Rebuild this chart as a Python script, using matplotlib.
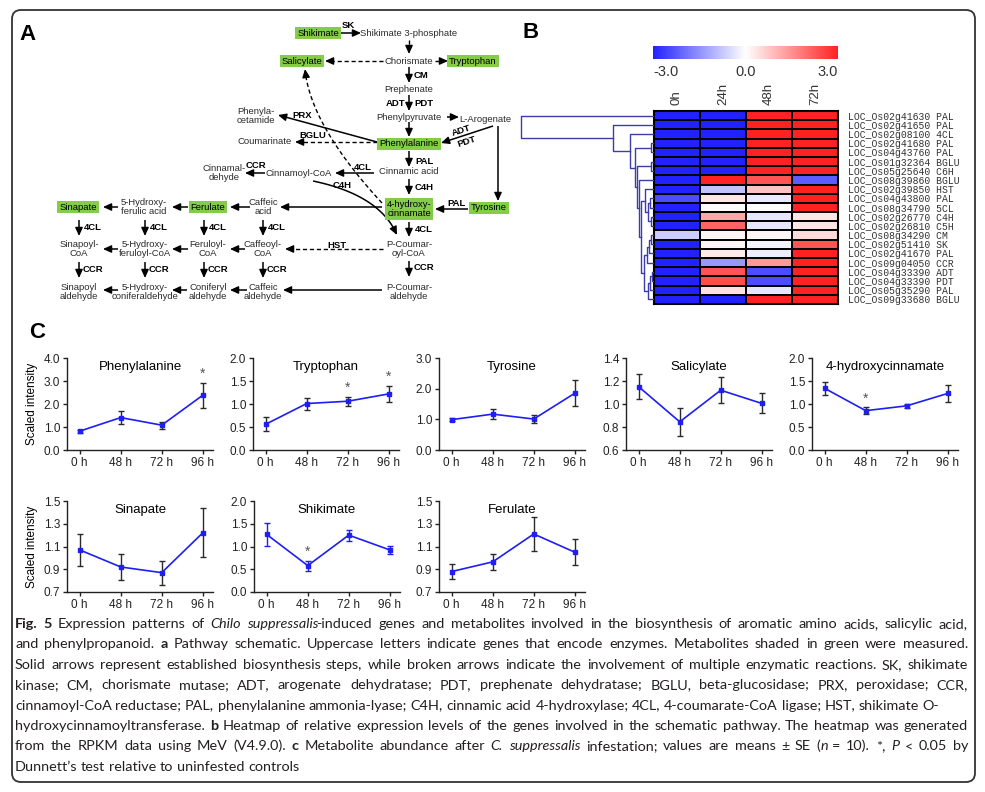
import numpy as np
import matplotlib
matplotlib.use("Agg")
import matplotlib.pyplot as plt
from matplotlib import font_manager
from matplotlib.colors import LinearSegmentedColormap
from matplotlib.patches import FancyBboxPatch

plt.rcParams["font.family"] = ["Liberation Sans", "DejaVu Sans"]

# ---------------------------------------------------------------- data (B)
hm_columns = ["0h", "24h", "48h", "72h"]
hm_genes = [
    "LOC_Os02g41630 PAL", "LOC_Os02g41650 PAL", "LOC_Os02g08100 4CL",
    "LOC_Os02g41680 PAL", "LOC_Os04g43760 PAL", "LOC_Os01g32364 BGLU",
    "LOC_Os05g25640 C6H", "LOC_Os08g39860 BGLU", "LOC_Os02g39850 HST",
    "LOC_Os04g43800 PAL", "LOC_Os08g34790 5CL", "LOC_Os02g26770 C4H",
    "LOC_Os02g26810 C5H", "LOC_Os08g34290 CM", "LOC_Os02g51410 SK",
    "LOC_Os02g41670 PAL", "LOC_Os09g04050 CCR", "LOC_Os04g33390 ADT",
    "LOC_Os04g33390 PDT", "LOC_Os05g35290 PAL", "LOC_Os09g33680 BGLU",
]
hm_values = [
    [-3.0, -3.0, 3.0, 3.0],
    [-3.0, -3.0, 3.0, 3.0],
    [-3.0, -3.0, 3.0, 3.0],
    [-3.0, -3.0, 3.0, 3.0],
    [-3.0, -3.0, 3.0, 3.0],
    [-3.0, -3.0, 3.0, 3.0],
    [-3.0, -3.0, 3.0, 3.0],
    [-3.0, 3.0, 2.3, -2.2],
    [-3.0, -0.8, 0.8, 3.0],
    [-2.4, 0.35, -0.3, 3.0],
    [-3.0, 0.05, 0.0, 3.0],
    [-3.0, 1.2, -0.35, 0.35],
    [-3.0, 2.1, -0.35, 0.35],
    [-0.7, 0.1, 0.1, 0.5],
    [-3.0, 0.15, -0.15, 2.3],
    [-3.0, 0.3, -0.25, 3.0],
    [-3.0, -1.4, 1.4, 3.0],
    [-3.0, 2.3, -2.4, 3.0],
    [-3.0, 2.4, -2.4, 3.0],
    [-3.0, 0.4, -0.35, 3.0],
    [-3.0, -3.0, 3.0, 3.0],
]
# dendrogram merges: (child a, child b, height); new nodes numbered from 21
dendro_merges = [
    (3, 4, 3), (5, 6, 3), (9, 10, 4), (11, 12, 3), (23, 24, 6), (8, 25, 9),
    (13, 14, 3), (27, 15, 5), (28, 16, 7), (17, 18, 2), (30, 19, 4), (31, 20, 6),
    (29, 32, 10), (26, 33, 13), (7, 34, 15), (22, 35, 17), (21, 36, 19),
    (2, 37, 24), (1, 38, 41), (0, 39, 133),
]

# ---------------------------------------------------------------- data (C)
times = ["0 h", "48 h", "72 h", "96 h"]
metabolites = ["Phenylalanine", "Tryptophan", "Tyrosine", "Salicylate",
               "4-hydroxycinnamate", "Sinapate", "Shikimate", "Ferulate"]
phe_mean, phe_se = [0.82, 1.41, 1.08, 2.38], [0.06, 0.29, 0.15, 0.55]
trp_mean, trp_se = [0.56, 1.01, 1.06, 1.22], [0.15, 0.13, 0.10, 0.18]
tyr_mean, tyr_se = [0.99, 1.17, 1.01, 1.85], [0.05, 0.17, 0.12, 0.43]
sal_mean, sal_se = [1.15, 0.845, 1.12, 1.005], [0.11, 0.12, 0.113, 0.087]
hcn_mean, hcn_se = [1.34, 0.855, 0.96, 1.23], [0.14, 0.07, 0.05, 0.18]
sin_mean, sin_se = [1.07, 0.92, 0.87, 1.22], [0.14, 0.117, 0.105, 0.215]
shi_mean, shi_se = [1.265, 0.58, 1.25, 0.925], [0.26, 0.11, 0.12, 0.085]
fer_mean, fer_se = [0.88, 0.965, 1.21, 1.05], [0.07, 0.072, 0.15, 0.115]
significant = {"Phenylalanine": [3], "Tryptophan": [2, 3],
               "4-hydroxycinnamate": [1], "Shikimate": [1]}
y_ticks = {
    "Phenylalanine": [0, 1, 2, 3, 4], "Tryptophan": [0, 0.5, 1, 1.5, 2],
    "Tyrosine": [0, 1, 2, 3], "Salicylate": [0.6, 0.8, 1.0, 1.2, 1.4],
    "4-hydroxycinnamate": [0, 0.5, 1, 1.5, 2], "Sinapate": [0.7, 0.9, 1.1, 1.3, 1.5],
    "Shikimate": [0, 0.5, 1, 1.5, 2], "Ferulate": [0.7, 0.9, 1.1, 1.3, 1.5],
}

# ---------------------------------------------------------------- pathway (A)
# node label, centre in figure pixels, measured (green) or not
pathway_nodes = [
    ("Shikimate", 318, 33, True), ("Shikimate 3-phosphate", 409, 33, False),
    ("Chorismate", 409, 61, False), ("Salicylate", 302, 61, True),
    ("Tryptophan", 473, 61, True), ("Prephenate", 409, 89, False),
    ("Phenylpyruvate", 409, 117, False), ("L-Arogenate", 485, 119, False),
    ("Phenylalanine", 409, 144, True), ("Phenyla-\ncetamide", 256, 116, False),
    ("Coumarinate", 265, 142, False), ("Cinnamic acid", 409, 172, False),
    ("Cinnamoyl-CoA", 299, 173, False), ("Cinnamal-\ndehyde", 224, 173, False),
    ("4-hydroxy-\ncinnamate", 409, 209, True), ("Tyrosine", 489, 208, True),
    ("Caffeic\nacid", 263, 207, False), ("Ferulate", 208, 207, True),
    ("5-Hydroxy-\nferulic acid", 144, 207, False), ("Sinapate", 78, 207, True),
    ("Sinapoyl-\nCoA", 79, 249, False), ("5-Hydroxy-\nferuloyl-CoA", 145, 249, False),
    ("Feruloyl-\nCoA", 208, 249, False), ("Caffeoyl-\nCoA", 263, 249, False),
    ("P-Coumar-\noyl-CoA", 409, 249, False),
    ("Sinapoyl\naldehyde", 79, 292, False), ("5-Hydroxy-\nconiferaldehyde", 145, 292, False),
    ("Coniferyl\naldehyde", 208, 292, False), ("Caffeic\naldehyde", 263, 292, False),
    ("P-Coumar-\naldehyde", 409, 292, False),
]
# x0, y0, x1, y1, dashed, curve control point
pathway_arrows = [
    (340, 33, 361, 33, False, None), (409, 40, 409, 54, True, None),
    (383, 61, 325, 61, True, None), (435, 61, 448, 61, True, None),
    (409, 67, 409, 83, False, None), (409, 95, 409, 111, False, None),
    (447, 117, 459, 117, False, None), (409, 122, 409, 137, False, None),
    (493, 126, 441, 143, False, None), (498, 126, 498, 201, False, None),
    (377, 142, 278, 115, False, None), (377, 142, 295, 142, True, None),
    (409, 151, 409, 167, False, None), (374, 173, 335, 173, False, None),
    (265, 173, 245, 173, False, None), (409, 179, 409, 195, False, None),
    (468, 209, 435, 209, False, None), (382, 207, 280, 207, False, None),
    (313, 181, 397, 235, False, (380, 195)), (382, 203, 305, 69, True, (310, 125)),
    (250, 207, 230, 207, False, None), (188, 207, 172, 207, False, None),
    (118, 207, 103, 207, False, None),
    (79, 220, 79, 236, False, None), (145, 220, 145, 236, False, None),
    (204, 220, 204, 236, False, None), (263, 220, 263, 236, False, None),
    (409, 222, 409, 237, False, None),
    (118, 249, 103, 249, False, None), (188, 249, 172, 249, False, None),
    (245, 249, 230, 249, False, None), (383, 249, 285, 249, True, None),
    (79, 262, 79, 278, False, None), (145, 262, 145, 278, False, None),
    (204, 262, 204, 278, False, None), (263, 262, 263, 278, False, None),
    (409, 261, 409, 277, False, None),
    (382, 290, 283, 290, False, None), (247, 290, 230, 290, False, None),
    (187, 290, 172, 290, False, None), (118, 290, 103, 290, False, None),
]
# enzyme label, centre, rotation
pathway_enzymes = [
    ("SK", 348, 26, 0), ("CM", 421, 75, 0), ("ADT", 396, 103, 0), ("PDT", 424, 103, 0),
    ("PRX", 302, 115, 0), ("BGLU", 313, 135, 0), ("ADT", 461, 131, 18), ("PDT", 467, 142, 18),
    ("PAL", 424, 161, 0), ("4CL", 363, 168, 0), ("CCR", 256, 166, 0), ("C4H", 424, 188, 0),
    ("C4H", 342, 186, 0), ("PAL", 457, 203, 0),
    ("4CL", 93, 228, 0), ("4CL", 159, 228, 0), ("4CL", 218, 228, 0), ("4CL", 277, 228, 0),
    ("4CL", 424, 230, 0), ("HST", 337, 245, 0),
    ("CCR", 93, 270, 0), ("CCR", 159, 270, 0), ("CCR", 218, 270, 0), ("CCR", 277, 270, 0),
    ("CCR", 424, 268, 0),
]

caption_lines = [
    ([("b", "Fig. 5"), ("n", " Expression patterns of "), ("i", "Chilo suppressalis"),
      ("n", "-induced genes and metabolites involved in the biosynthesis of aromatic amino acids, salicylic acid,")], True),
    ([("n", "and phenylpropanoid. "), ("b", "a"),
      ("n", " Pathway schematic. Uppercase letters indicate genes that encode enzymes. Metabolites shaded in green were measured.")], True),
    ([("n", "Solid arrows represent established biosynthesis steps, while broken arrows indicate the involvement of multiple enzymatic reactions. SK, shikimate")], True),
    ([("n", "kinase; CM, chorismate mutase; ADT, arogenate dehydratase; PDT, prephenate dehydratase; BGLU, beta-glucosidase; PRX, peroxidase; CCR,")], True),
    ([("n", "cinnamoyl-CoA  reductase; PAL, phenylalanine ammonia-lyase; C4H, cinnamic acid 4-hydroxylase; 4CL, 4-coumarate-CoA ligase; HST, shikimate O-")], False),
    ([("n", "hydroxycinnamoyltransferase. "), ("b", "b"),
      ("n", " Heatmap of relative expression levels of the genes involved in the schematic pathway. The heatmap was generated")], True),
    ([("n", "from the RPKM data using MeV (V4.9.0). "), ("b", "c"), ("n", " Metabolite abundance after "),
      ("i", "C. suppressalis"), ("n", " infestation; values are means \u00b1 SE ("), ("i", "n"),
      ("n", " = 10). *, "), ("i", "P"), ("n", " < 0.05 by")], True),
    ([("n", "Dunnett\u2019s test relative to uninfested controls")], False),
]

# ---------------------------------------------------------------- figure
W, H = 985, 792
fig = plt.figure(figsize=(W / 100, H / 100), dpi=100)


def px_rect(left, top, right, bottom):
    return [left / W, 1 - bottom / H, (right - left) / W, (bottom - top) / H]


pax = fig.add_axes([0, 0, 1, 1])
pax.set_xlim(0, W)
pax.set_ylim(H, 0)
pax.axis("off")

pax.add_patch(FancyBboxPatch((12, 10), 963, 772, boxstyle="round,pad=0,rounding_size=9",
                             fc="none", ec="#333333", lw=1.3))

for lab, x, y in [("A", 28, 35), ("B", 531, 33), ("C", 37, 332)]:
    pax.text(x, y, lab, fontsize=16, fontweight="bold", ha="center", va="center")

# -- panel A -----------------------------------------------------------------
GREEN = "#84cc4a"
for label, x, y, measured in pathway_nodes:
    kw = dict(fontsize=6.8, ha="center", va="center", linespacing=1.1, color="#2b2b2b")
    if measured:
        kw["color"] = "black"
        kw["bbox"] = dict(boxstyle="square,pad=0.2", fc=GREEN, ec="none")
    pax.text(x, y, label, **kw)


def draw_arrow(x0, y0, x1, y1, dashed, ctrl):
    t = np.linspace(0, 1, 60)
    if ctrl is None:
        pts = np.column_stack([x0 + (x1 - x0) * t, y0 + (y1 - y0) * t])
    else:
        cx, cy = ctrl
        pts = np.column_stack([(1 - t) ** 2 * x0 + 2 * (1 - t) * t * cx + t ** 2 * x1,
                               (1 - t) ** 2 * y0 + 2 * (1 - t) * t * cy + t ** 2 * y1])
    seg = np.hypot(*np.diff(pts, axis=0).T)
    cum = np.concatenate([[0], np.cumsum(seg)])
    cut = max(cum[-1] - 6.5, 0)
    keep = cum <= cut
    body = pts[keep]
    if dashed:
        pax.plot(body[:, 0], body[:, 1], color="black", lw=1.0, dashes=(3, 2))
    else:
        pax.plot(body[:, 0], body[:, 1], color="black", lw=1.1, solid_capstyle="butt")
    pax.annotate("", xy=(x1, y1), xytext=tuple(body[-1]),
                 arrowprops=dict(arrowstyle="-|>,head_length=0.55,head_width=0.25",
                                 color="black", lw=1.0, shrinkA=0, shrinkB=0,
                                 mutation_scale=9))


for a in pathway_arrows:
    draw_arrow(*a)

for label, x, y, rot in pathway_enzymes:
    pax.text(x, y, label, fontsize=6.8, fontweight="bold", ha="center", va="center",
             rotation=rot, rotation_mode="anchor")

# -- panel B -----------------------------------------------------------------
cmap = LinearSegmentedColormap.from_list("mev", ["#2222ff", "#ffffff", "#ff2222"])
hax = fig.add_axes(px_rect(654, 111, 838, 304))
mesh = hax.pcolormesh(np.array(hm_values), cmap=cmap, vmin=-3, vmax=3,
                      edgecolors="black", linewidth=1.3)
hax.set_xlim(0, len(hm_columns))
hax.set_ylim(len(hm_genes), 0)
hax.xaxis.tick_top()
hax.set_xticks(np.arange(len(hm_columns)) + 0.5)
hax.set_xticklabels(hm_columns, rotation=90, fontsize=9.5, color="#333333")
hax.yaxis.tick_right()
hax.set_yticks(np.arange(len(hm_genes)) + 0.5)
hax.set_yticklabels(hm_genes, fontsize=7, family="Liberation Mono", color="#333333")
hax.tick_params(length=0)
hax.tick_params(axis="x", pad=4)
hax.tick_params(axis="y", pad=7)
for s in hax.spines.values():
    s.set_linewidth(1.5)

dax = fig.add_axes(px_rect(519, 111, 654, 304))
dax.set_xlim(135, 0)
dax.set_ylim(len(hm_genes), 0)
dax.axis("off")
pos = {i: (0.0, i + 0.5) for i in range(len(hm_genes))}
for k, (a, b, h) in enumerate(dendro_merges):
    xa, ya = pos[a]
    xb, yb = pos[b]
    dax.plot([xa, h, h, xb], [ya, ya, yb, yb], color="#3c3caa", lw=1.0)
    pos[len(hm_genes) + k] = (h, (ya + yb) / 2)

cax = fig.add_axes(px_rect(653, 46, 838, 59))
cb = fig.colorbar(mesh, cax=cax, orientation="horizontal", ticks=[-3, 0, 3])
cb.outline.set_visible(False)
cb.set_ticklabels(["-3.0", "0.0", "3.0"])
cax.tick_params(length=0, labelsize=10.5, pad=4, labelcolor="#333333")
tl = cax.get_xticklabels()
tl[0].set_ha("left")
tl[-1].set_ha("right")

# -- panel C -----------------------------------------------------------------
series = {
    "Phenylalanine": (phe_mean, phe_se), "Tryptophan": (trp_mean, trp_se),
    "Tyrosine": (tyr_mean, tyr_se), "Salicylate": (sal_mean, sal_se),
    "4-hydroxycinnamate": (hcn_mean, hcn_se), "Sinapate": (sin_mean, sin_se),
    "Shikimate": (shi_mean, shi_se), "Ferulate": (fer_mean, fer_se),
}
top_lefts = [67, 253, 439, 626, 812]
bottom_lefts = [67, 254, 439]
rects = [px_rect(l, 358, l + 146, 450) for l in top_lefts] + \
        [px_rect(l, 501, l + 146, 592) for l in bottom_lefts]
BLUE = "#1e1ef5"

for i, (name, rect) in enumerate(zip(metabolites, rects)):
    mean, se = series[name]
    ax = fig.add_axes(rect)
    x = np.arange(len(times))
    ecol = BLUE if name == "Shikimate" else "#2a2a2a"
    ax.errorbar(x, mean, yerr=se, color=BLUE, ecolor=ecol, elinewidth=1.0, capsize=2.5,
                capthick=1.0, marker="s", ms=3.5, lw=1.2, mfc=BLUE, mec=BLUE)
    for j in significant.get(name, []):
        ax.annotate("*", xy=(j, mean[j] + se[j]), xytext=(0, 1), textcoords="offset points",
                    ha="center", va="bottom", fontsize=10, color="#555555")
    ticks = y_ticks[name]
    ax.set_ylim(ticks[0], ticks[-1])
    ax.set_yticks(ticks)
    ax.set_yticklabels([f"{v:.1f}" for v in ticks])
    ax.set_xlim(-0.31, 3.25)
    ax.set_xticks(x)
    ax.set_xticklabels(times)
    for s in ["top", "right"]:
        ax.spines[s].set_visible(False)
    for s in ["left", "bottom"]:
        ax.spines[s].set_linewidth(1.0)
        ax.spines[s].set_color("#222222")
    ax.tick_params(direction="out", length=3, width=1, labelsize=8.5, pad=2, colors="#222222")
    ax.patch.set_alpha(0)
    ax.text(0.5, 0.9, name, transform=ax.transAxes, ha="center", va="center", fontsize=9.5)
    if i in (0, 5):
        ax.set_ylabel("Scaled intensity", fontsize=8.5, labelpad=4)

# -- caption -----------------------------------------------------------------
available = {f.name for f in font_manager.fontManager.ttflist}
cap_family = "Liberation Sans"
for cand in ["Liberation Sans Narrow", "Lato", "Roboto", "Liberation Sans"]:
    if cand in available:
        cap_family = cand
        break
STYLE = {"n": {}, "b": {"fontweight": "bold"}, "i": {"fontstyle": "italic"}}
renderer = fig.canvas.get_renderer()


def text_width(s, size, style="n"):
    t = pax.text(0, 0, s, fontsize=size, family=cap_family, **STYLE[style])
    w = t.get_window_extent(renderer).width
    t.remove()
    return w


def split_words(runs):
    words, cur = [], []
    for style, text in runs:
        for k, part in enumerate(text.split(" ")):
            if k > 0 and cur:
                words.append(cur)
                cur = []
            if part:
                cur.append((style, part))
    if cur:
        words.append(cur)
    return words


RIGHT, LEFT = 968, 15
cap_size = 10.5
for _ in range(4):
    space = text_width("n n", cap_size) - text_width("nn", cap_size)
    widest = 0
    for runs, _j in caption_lines:
        words = split_words(runs)
        tot = sum(text_width(s, cap_size, st) for w in words for st, s in w)
        widest = max(widest, tot + space * (len(words) - 1))
    if widest <= (RIGHT - LEFT) * 0.99:
        break
    cap_size *= (RIGHT - LEFT) * 0.985 / widest

space = text_width("n n", cap_size) - text_width("nn", cap_size)
for li, (runs, justify) in enumerate(caption_lines):
    base = 628 + 20.4 * li
    words = split_words(runs)
    made = []
    for w in words:
        segs = []
        for st, s in w:
            t = pax.text(0, base, s, fontsize=cap_size, family=cap_family, va="baseline",
                         color="#231f20", **STYLE[st])
            wd = t.get_window_extent(renderer).width
            if st == "i" and len(w) > 1:
                wd -= 2.0  # slanted overhang when joined to an upright run
            segs.append((t, wd))
        made.append(segs)
    widths = [sum(wd for _t, wd in segs) for segs in made]
    gap = space
    if justify and len(made) > 1:
        gap = (RIGHT - LEFT - sum(widths)) / (len(made) - 1)
    xpos = LEFT
    for segs, wsum in zip(made, widths):
        xx = xpos
        for t, wd in segs:
            t.set_x(xx)
            xx += wd
        xpos += wsum + gap

fig.savefig("out.png", dpi=100)
